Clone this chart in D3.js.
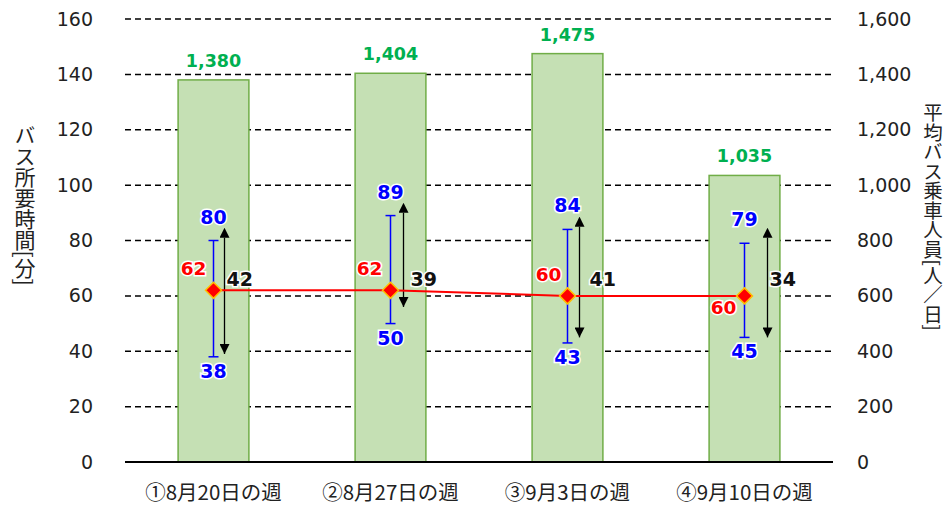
<!DOCTYPE html>
<html><head><meta charset="utf-8">
<script src="https://cdn.jsdelivr.net/npm/d3@7"></script>
<style>
body{margin:0;background:#fff;}
svg{display:block;}
text{font-family:"DejaVu Sans",Verdana,"Noto Sans CJK JP",sans-serif;}
</style></head>
<body>
<svg id="c" width="946" height="507"></svg>
<script>
const categories = ["①8月20日の週","②8月27日の週","③9月3日の週","④9月10日の週"];
const riders = [1380, 1404, 1475, 1035];
const avgTime = [62, 62, 60, 60];
const maxTime = [80, 89, 84, 79];
const minTime = [38, 50, 43, 45];
const rangeTime = [42, 39, 41, 34];
const arrowTop = [81, 90, 85, 81];
const arrowBottom = [39, 56, 45, 45];
const leftTicks = [0,20,40,60,80,100,120,140,160];
const rightTicks = [0,200,400,600,800,1000,1200,1400,1600];
const leftTitle = "バス所要時間[分]";
const rightTitle = "平均バス乗車人員[人／日]";

const svg = d3.select("#c");
const L = 125, R = 833, T = 19, B = 462;
const x = d3.scaleBand().domain(categories).range([L,R]).paddingInner(0.6).paddingOuter(0.3);
const yL = d3.scaleLinear().domain([0,160]).range([B,T]);
const yR = d3.scaleLinear().domain([0,1600]).range([B,T]);
const cx = c => x(c) + x.bandwidth()/2;

// gridlines
svg.append("g").selectAll("line").data(leftTicks.filter(d=>d>0)).join("line")
  .attr("x1",L).attr("x2",R).attr("y1",d=>yL(d)).attr("y2",d=>yL(d))
  .attr("stroke","#000").attr("stroke-width",1.5).attr("stroke-dasharray","6,4");

// left axis
const gl = svg.append("g").attr("transform",`translate(${L},0)`)
  .call(d3.axisLeft(yL).tickValues(leftTicks).tickSize(0).tickPadding(32));
gl.select(".domain").remove();
gl.selectAll("text").attr("font-size",19).attr("fill","#222").style("font-family","DejaVu Sans");

// right axis
const gr = svg.append("g").attr("transform",`translate(${R},0)`)
  .call(d3.axisRight(yR).tickValues(rightTicks).tickSize(0).tickPadding(24).tickFormat(d3.format(",")));
gr.select(".domain").remove();
gr.selectAll("text").attr("font-size",19).attr("fill","#222").style("font-family","DejaVu Sans");

// bars
svg.append("g").selectAll("rect").data(categories).join("rect")
  .attr("x",d=>x(d)).attr("width",x.bandwidth())
  .attr("y",(d,i)=>yR(riders[i])).attr("height",(d,i)=>B-yR(riders[i]))
  .attr("fill","#c5e0b4").attr("stroke","#70ad47").attr("stroke-width",1.5);

// baseline
svg.append("line").attr("x1",L).attr("x2",R).attr("y1",B).attr("y2",B)
  .attr("stroke","#000").attr("stroke-width",2);

// x labels
svg.append("g").selectAll("text").data(categories).join("text")
  .attr("x",d=>cx(d)).attr("y",500).attr("text-anchor","middle")
  .attr("font-size",20.5).attr("fill","#222").style("font-family","Noto Sans CJK JP").text(d=>d);

// green labels
svg.append("g").selectAll("text").data(categories).join("text")
  .attr("x",d=>cx(d)).attr("y",(d,i)=>yR(riders[i])-13).attr("text-anchor","middle")
  .attr("font-size",17.5).attr("font-weight","bold").attr("fill","#00b050")
  .attr("stroke","#fff").attr("stroke-width",3).attr("paint-order","stroke")
  .text((d,i)=>d3.format(",")(riders[i]));

// defs arrowheads
const defs = svg.append("defs");
["s","e"].forEach(k=>{
  defs.append("marker").attr("id","ah"+k).attr("viewBox","0 0 10 10")
    .attr("refX",k==="e"?10:0).attr("refY",5).attr("markerWidth",10).attr("markerHeight",10)
    .attr("markerUnits","userSpaceOnUse").attr("orient","auto-start-reverse")
    .append("path").attr("d","M0,0 L10,5 L0,10 Z").attr("fill","#000");
});

// black arrows
const arrowDx = [11, 13, 12, 23];
const labelDx = [13, 20, 22, 25];
const ag = svg.append("g");
categories.forEach((c,i)=>{
  ag.append("line").attr("x1",cx(c)+arrowDx[i]).attr("x2",cx(c)+arrowDx[i])
    .attr("y1",yL(arrowTop[i])).attr("y2",yL(arrowBottom[i]))
    .attr("stroke","#000").attr("stroke-width",1.3)
    .attr("marker-start","url(#ahs)").attr("marker-end","url(#ahe)");
  ag.append("text").attr("x",cx(c)+labelDx[i]).attr("y",yL(66)+7)
    .attr("font-size",19).attr("font-weight","bold").attr("fill","#111")
    .attr("stroke","#fff").attr("stroke-width",3).attr("paint-order","stroke")
    .text(rangeTime[i]);
});

// blue error bars
const eg = svg.append("g").attr("stroke","#0000ff").attr("stroke-width",1.5);
categories.forEach((c,i)=>{
  const X = cx(c);
  eg.append("line").attr("x1",X).attr("x2",X).attr("y1",yL(maxTime[i])).attr("y2",yL(minTime[i]));
  eg.append("line").attr("x1",X-5).attr("x2",X+5).attr("y1",yL(maxTime[i])).attr("y2",yL(maxTime[i]));
  eg.append("line").attr("x1",X-5).attr("x2",X+5).attr("y1",yL(minTime[i])).attr("y2",yL(minTime[i]));
});
const bl = svg.append("g").attr("font-size",19).attr("font-weight","bold").attr("fill","#0000ff")
  .attr("stroke","#fff").attr("stroke-width",3).attr("paint-order","stroke").attr("text-anchor","middle");
categories.forEach((c,i)=>{
  bl.append("text").attr("x",cx(c)).attr("y",yL(maxTime[i])-17).text(maxTime[i]);
  bl.append("text").attr("x",cx(c)).attr("y",yL(minTime[i])+21).text(minTime[i]);
});

// red line
svg.append("path").datum(categories)
  .attr("d",d3.line().x(d=>cx(d)).y((d,i)=>yL(avgTime[i])))
  .attr("fill","none").attr("stroke","#ff0000").attr("stroke-width",2);
svg.append("g").selectAll("path").data(categories).join("path")
  .attr("transform",(d,i)=>`translate(${cx(d)},${yL(avgTime[i])})`)
  .attr("d","M0,-8 L8,0 L0,8 L-8,0 Z")
  .attr("fill","#ff0000").attr("stroke","#ffc000").attr("stroke-width",1.5);

// red labels
const redPos = [[-20,70],[-21,70],[-19,68],[-21,56]];
svg.append("g").selectAll("text").data(categories).join("text")
  .attr("x",(d,i)=>cx(d)+redPos[i][0]).attr("y",(d,i)=>yL(redPos[i][1])+7)
  .attr("text-anchor","middle").attr("font-size",18.5).attr("font-weight","bold").attr("fill","#ff0000")
  .attr("stroke","#fff").attr("stroke-width",3).attr("paint-order","stroke")
  .text((d,i)=>avgTime[i]);

// axis titles
svg.append("text").attr("transform","translate(25,205)")
  .style("writing-mode","vertical-rl").style("font-family","Noto Sans CJK JP")
  .attr("text-anchor","middle").attr("font-size",21).attr("fill","#222").text(leftTitle);
svg.append("text").attr("transform","translate(933,217)")
  .style("writing-mode","vertical-rl").style("font-family","Noto Sans CJK JP")
  .attr("text-anchor","middle").attr("font-size",19.5).attr("fill","#222").text(rightTitle);
</script>
</body></html>
